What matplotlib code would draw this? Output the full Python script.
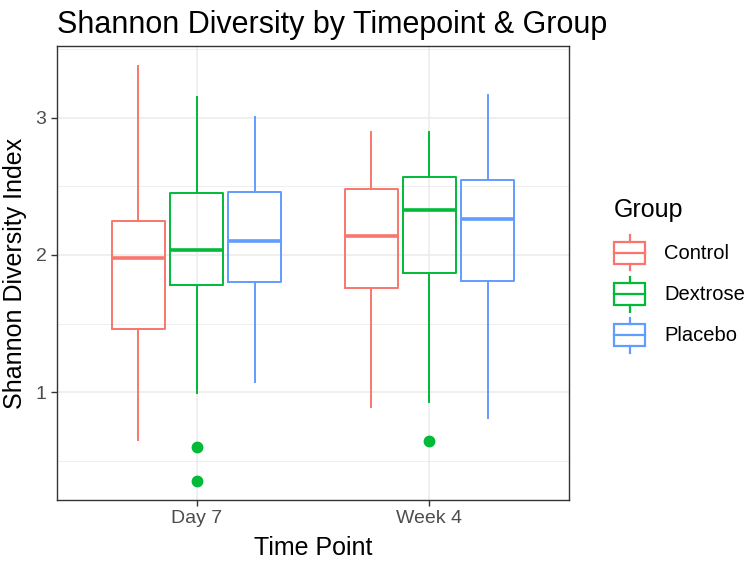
import numpy as np
import matplotlib.pyplot as plt
from matplotlib.patches import Rectangle
from matplotlib.lines import Line2D
from matplotlib.legend_handler import HandlerBase

plt.rcParams['font.family'] = ['Liberation Sans', 'DejaVu Sans']

timepoints = ["Day 7", "Week 4"]
groups = ["Control", "Dextrose", "Placebo"]
colors = ["#F8766D", "#00BA38", "#619CFF"]

# per timepoint, per group: [whislo, q1, med, q3, whishi]
day7 = [[0.65, 1.46, 1.98, 2.25, 3.38],
        [0.99, 1.78, 2.04, 2.45, 3.15],
        [1.07, 1.80, 2.10, 2.46, 3.01]]
week4 = [[0.89, 1.76, 2.14, 2.48, 2.90],
         [0.93, 1.87, 2.33, 2.57, 2.90],
         [0.81, 1.81, 2.26, 2.55, 3.17]]
fliers_day7 = [[], [0.60, 0.35], []]
fliers_week4 = [[], [0.64], []]

data = [day7, week4]
fliers = [fliers_day7, fliers_week4]


class BoxKey(HandlerBase):
    # little boxplot glyph for the legend, like ggplot's key
    def create_artists(self, legend, orig_handle, xdescent, ydescent,
                       width, height, fontsize, trans):
        c = orig_handle.get_color()
        cx = width / 2 - xdescent
        cy = height / 2 - ydescent
        bh = height * 0.62
        lw = 1.6
        box = Rectangle((-xdescent, cy - bh / 2), width, bh, fill=False,
                        edgecolor=c, lw=lw, transform=trans)
        med = Line2D([-xdescent, width - xdescent], [cy, cy], color=c, lw=lw, transform=trans)
        w1 = Line2D([cx, cx], [cy + bh / 2, cy + height * 0.5], color=c, lw=lw, transform=trans)
        w2 = Line2D([cx, cx], [cy - bh / 2, cy - height * 0.5], color=c, lw=lw, transform=trans)
        return [box, med, w1, w2]


fig = plt.figure(figsize=(7.5, 5.61), dpi=100)
ax = fig.add_axes([0.076, 0.1087, 0.6827, 0.8093])

offsets = [-0.25, 0, 0.25]
for i, tp in enumerate(timepoints):
    for j, g in enumerate(groups):
        lo, q1, med, q3, hi = data[i][j]
        st = [dict(whislo=lo, q1=q1, med=med, q3=q3, whishi=hi, fliers=fliers[i][j])]
        c = colors[j]
        ax.bxp(st, positions=[i + 1 + offsets[j]], widths=0.227, showcaps=False,
               boxprops=dict(color=c, lw=1.4),
               whiskerprops=dict(color=c, lw=1.4),
               medianprops=dict(color=c, lw=2.6, solid_capstyle='butt'),
               flierprops=dict(marker='o', markerfacecolor=c, markeredgecolor=c, markersize=7.5),
               manage_ticks=False, zorder=3)

ax.set_xlim(0.4, 2.6)
ax.set_ylim(0.212, 3.525)
ax.set_xticks([1, 2])
ax.set_xticklabels(timepoints)
ax.set_yticks([1, 2, 3])
ax.set_yticks([0.5, 1.5, 2.5, 3.5], minor=True)
ax.grid(True, which='major', color='#EBEBEB', lw=1.1, zorder=0)
ax.grid(True, which='minor', axis='y', color='#EBEBEB', lw=0.55, zorder=0)
ax.set_axisbelow(True)
for s in ax.spines.values():
    s.set_color('#333333')
    s.set_linewidth(1.0)
ax.tick_params(which='major', color='#333333', length=4, width=1.0,
               labelcolor='#4D4D4D', labelsize=14, pad=3.5)
ax.tick_params(which='minor', length=0)

ax.set_xlabel("Time Point", fontsize=18, labelpad=6)
ax.set_ylabel("Shannon Diversity Index", fontsize=18, labelpad=6)
ax.set_title("Shannon Diversity by Timepoint & Group", fontsize=22, loc='left', pad=9.5)

handles = [Line2D([], [], color=c) for c in colors]
leg = fig.legend(handles, groups, title="Group", loc='upper left',
                 bbox_to_anchor=(0.808, 0.661), frameon=False, fontsize=14.5,
                 title_fontsize=18, handler_map={Line2D: BoxKey()},
                 handlelength=1.55, handleheight=2.3, labelspacing=0.3,
                 handletextpad=0.95, borderaxespad=0)
leg._legend_box.align = "left"
leg._legend_box.sep = 9.5

fig.savefig("out.png", dpi=100)
